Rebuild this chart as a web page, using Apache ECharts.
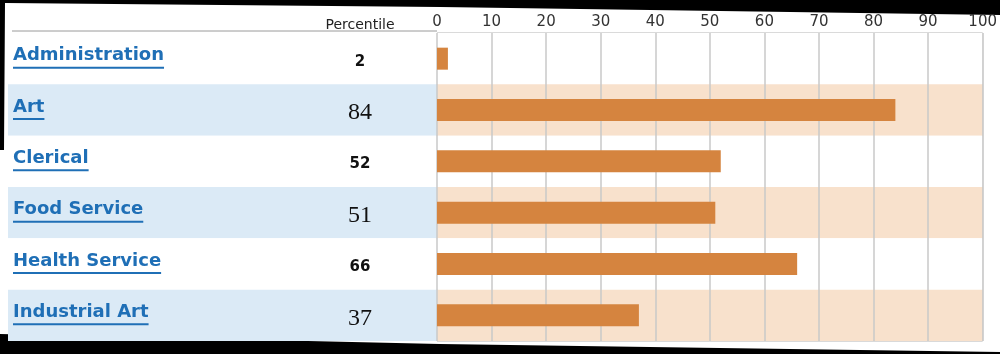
<!DOCTYPE html>
<html>
<head>
<meta charset="utf-8">
<script src="https://cdn.jsdelivr.net/npm/echarts@6/dist/echarts.min.js"></script>
<style>
  html, body { margin: 0; padding: 0; background: #000; }
  #main { width: 1000px; height: 354px; }
</style>
</head>
<body>
<div id="main"></div>
<script>
// interest areas and their percentile scores
const categories = ['Administration', 'Art', 'Clerical', 'Food Service', 'Health Service', 'Industrial Art'];
const percentiles = [2, 84, 52, 51, 66, 37];
const tickLabels = [0, 10, 20, 30, 40, 50, 60, 70, 80, 90, 100];

const linkColor = '#1f6fb6';
const nameFont = 'bold 18px "DejaVu Sans", Verdana, sans-serif';

const measureCtx = document.createElement('canvas').getContext('2d');
function textWidth(txt, font) {
  measureCtx.font = font;
  return measureCtx.measureText(txt).width;
}

const chart = echarts.init(document.getElementById('main'));

function renderTableRow(params, api) {
  const cs = params.coordSys;
  const y = api.coord([0, api.value(1)])[1];
  const name = categories[params.dataIndex];
  const value = String(api.value(2));
  const x0 = cs.x + 5;
  const serif = params.dataIndex % 2 === 1;
  return {
    type: 'group',
    children: [
      {
        type: 'text',
        style: {
          text: name, x: x0, y: y - 3, font: nameFont, fill: linkColor,
          align: 'left', verticalAlign: 'middle'
        }
      },
      {
        type: 'line',
        shape: { x1: x0, y1: y + 9, x2: x0 + textWidth(name, nameFont), y2: y + 9 },
        style: { stroke: linkColor, lineWidth: 2 }
      },
      {
        type: 'text',
        style: {
          text: value, x: 360, y: y + 3,
          font: serif ? '24px "Liberation Serif", "Times New Roman", serif' : 'bold 15px "DejaVu Sans", Verdana, sans-serif',
          fill: '#111', align: 'center', verticalAlign: 'middle'
        }
      }
    ]
  };
}

const option = {
  backgroundColor: '#000',
  animation: false,
  graphic: [
    {
      type: 'polygon', z: -10, silent: true,
      shape: { points: [[5, 3], [440, 7], [1000, 15], [1000, 352], [440, 344], [0, 334], [0, 150], [4, 150]] },
      style: { fill: '#fff' }
    },
    {
      type: 'line', silent: true,
      shape: { x1: 12, y1: 31, x2: 437, y2: 31 },
      style: { stroke: '#9a9a9a', lineWidth: 1 }
    },
    {
      type: 'text', silent: true,
      style: {
        text: 'Percentile', x: 360, y: 25, align: 'center', verticalAlign: 'middle',
        font: '14px "DejaVu Sans", Verdana, sans-serif', fill: '#222'
      }
    }
  ],
  grid: [
    { left: 8, top: 33, width: 429, height: 308 },
    { left: 437, top: 33, width: 553, height: 308, show: true, borderColor: '#b4b4b4', borderWidth: 1 }
  ],
  xAxis: [
    { gridIndex: 0, type: 'value', min: 0, max: 1, show: false },
    {
      gridIndex: 1, type: 'value', position: 'top',
      min: tickLabels[0], max: tickLabels[tickLabels.length - 1], interval: 10,
      axisLine: { show: false }, axisTick: { show: false },
      axisLabel: { fontSize: 15, color: '#333', margin: 3, fontFamily: '"DejaVu Sans", Verdana, sans-serif' },
      splitLine: { show: true, lineStyle: { color: '#c9c9c9', width: 1.5 } }
    }
  ],
  yAxis: [
    {
      gridIndex: 0, type: 'category', data: categories, inverse: true,
      axisLine: { show: false }, axisTick: { show: false }, axisLabel: { show: false },
      splitLine: { show: false },
      splitArea: { show: true, interval: 0, areaStyle: { color: ['#ffffff', '#dbeaf6'] } }
    },
    {
      gridIndex: 1, type: 'category', data: categories, inverse: true,
      axisLine: { show: false }, axisTick: { show: false }, axisLabel: { show: false },
      splitLine: { show: false },
      splitArea: { show: true, interval: 0, areaStyle: { color: ['#ffffff', '#f8e1cc'] } }
    }
  ],
  series: [
    {
      type: 'custom',
      xAxisIndex: 0, yAxisIndex: 0,
      data: categories.map((c, i) => [0, c, percentiles[i]]),
      encode: { x: 0, y: 1 },
      renderItem: renderTableRow
    },
    {
      type: 'bar',
      xAxisIndex: 1, yAxisIndex: 1,
      data: percentiles,
      barWidth: 22,
      itemStyle: { color: '#d5843f' }
    }
  ]
};

chart.setOption(option);
</script>
</body>
</html>
